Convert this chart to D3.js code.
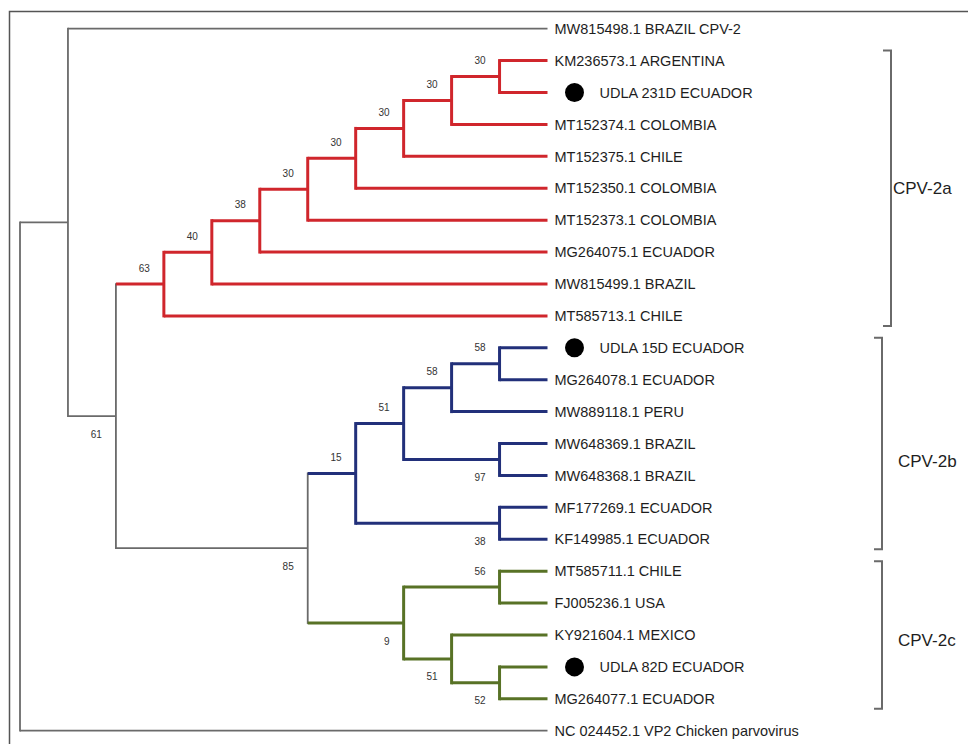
<!DOCTYPE html>
<html>
<script src='https://d3js.org/d3.v7.min.js'></script>
<style>
 body {margin:0; background:#fff;}
 text {font-family: 'Liberation Sans', Arial, sans-serif;}
</style>
<body onload='init()'>
<svg width=968 height=744>
</svg>
<script>

// tree as id / parent / bootstrap lists (children listed top to bottom)
var ids = ['root','n1','MW815498.1 BRAZIL CPV-2','n2','a0','a1','a2','a3','a4','a5','a6','a7',
 'KM236573.1 ARGENTINA','UDLA 231D ECUADOR','MT152374.1 COLOMBIA','MT152375.1 CHILE',
 'MT152350.1 COLOMBIA','MT152373.1 COLOMBIA','MG264075.1 ECUADOR','MW815499.1 BRAZIL','MT585713.1 CHILE',
 'c','b0','b1','b2','b3','UDLA 15D ECUADOR','MG264078.1 ECUADOR','MW889118.1 PERU',
 'b4','MW648369.1 BRAZIL','MW648368.1 BRAZIL','b5','MF177269.1 ECUADOR','KF149985.1 ECUADOR',
 'g0','g1','MT585711.1 CHILE','FJ005236.1 USA','g2','KY921604.1 MEXICO','g3',
 'UDLA 82D ECUADOR','MG264077.1 ECUADOR','NC 024452.1 VP2 Chicken parvovirus'];

var parents = ['','root','n1','n1','n2','a0','a1','a2','a3','a4','a5','a6',
 'a7','a7','a6','a5',
 'a4','a3','a2','a1','a0',
 'n2','c','b0','b1','b2','b3','b3','b2',
 'b1','b4','b4','b0','b5','b5',
 'c','g0','g1','g1','g0','g2','g2',
 'g3','g3','root'];

var support = [null,null,null,61,63,40,38,30,30,30,30,30,
 null,null,null,null,
 null,null,null,null,null,
 85,15,51,58,58,null,null,null,
 97,null,null,38,null,null,
 9,56,null,null,51,null,52,
 null,null,null];

// clade of each subtree root
var cladeRoots = ['a0','b0','g0'];
var cladeNames = ['CPV-2a','CPV-2b','CPV-2c'];
var cladeColors = ['#d0262c','#22307a','#587226'];

// isolates sequenced in the study (black dot)
var studyIsolates = ['UDLA 231D ECUADOR','UDLA 15D ECUADOR','UDLA 82D ECUADOR'];

function init() {

 var svg = d3.select('svg');
 var grey = '#6a6a6a';

 // frame
 svg.append('path')
  .attr('d','M9.5,744 V11.5 H968')
  .attr('fill','none').attr('stroke','#555').attr('stroke-width',1.5);

 var table = ids.map(function(d,i){ return {id:d, parent:parents[i], support:support[i]}; });
 var root = d3.stratify().id(function(d){return d.id;}).parentId(function(d){return d.parent || null;})(table);

 d3.cluster().size([1,1]).separation(function(){return 1;})(root);

 var leaves = root.leaves();
 var y = d3.scaleLinear().domain(d3.extent(leaves, function(n){return n.x;})).range([28.7,730.7]);
 var x = d3.scaleLinear().domain([0,1]).range([20,547.5]);

 // clade colour per node
 root.each(function(n){
  var k = cladeRoots.indexOf(n.id);
  if (k >= 0) n.color = cladeColors[k];
  else n.color = n.parent ? n.parent.color : null;
 });
 function col(n){ return n.color || grey; }
 function wid(n){ return n.color ? 3 : 1.8; }

 var g = svg.append('g');

 // vertical bars at internal nodes
 g.selectAll('line.v')
  .data(root.descendants().filter(function(n){return n.children;}))
  .enter().append('line')
   .attr('class','v')
   .attr('x1', function(n){return x(n.y);})
   .attr('x2', function(n){return x(n.y);})
   .attr('y1', function(n){return y(n.children[0].x) - wid(n)/2;})
   .attr('y2', function(n){return y(n.children[n.children.length-1].x) + wid(n)/2;})
   .attr('stroke', col).attr('stroke-width', wid);

 // horizontal branches
 g.selectAll('line.h')
  .data(root.descendants().filter(function(n){return n.parent;}))
  .enter().append('line')
   .attr('class','h')
   .attr('x1', function(n){return x(n.parent.y);})
   .attr('x2', function(n){return x(n.y);})
   .attr('y1', function(n){return y(n.x);})
   .attr('y2', function(n){return y(n.x);})
   .attr('stroke', col).attr('stroke-width', wid);

 // bootstrap values
 g.selectAll('text.bs')
  .data(root.descendants().filter(function(n){return n.data.support != null;}))
  .enter().append('text')
   .attr('class','bs')
   .attr('x', function(n){return x(n.y) - 14;})
   .attr('y', function(n){
     var below = n.parent && n.x > n.parent.x;
     return y(n.x) + (below ? 21.5 : -12.5);
   })
   .attr('text-anchor','end')
   .attr('font-size',10)
   .attr('fill','#333')
   .text(function(n){return n.data.support;});

 // leaf labels
 g.selectAll('circle.iso')
  .data(leaves.filter(function(n){return studyIsolates.indexOf(n.id) >= 0;}))
  .enter().append('circle')
   .attr('class','iso')
   .attr('cx', x(1) + 27)
   .attr('cy', function(n){return y(n.x);})
   .attr('r', 9.5)
   .attr('fill','#000');

 g.selectAll('text.leaf')
  .data(leaves)
  .enter().append('text')
   .attr('class','leaf')
   .attr('x', function(n){ return x(n.y) + (studyIsolates.indexOf(n.id) >= 0 ? 52 : 7); })
   .attr('y', function(n){return y(n.x);})
   .attr('dy','0.36em')
   .attr('font-size',14.5)
   .attr('fill','#1e1e1e')
   .text(function(n){return n.id;});

 // clade brackets
 var bx = [891, 882, 882];
 var lx = [893, 898, 898];
 var ly = [0, 17, 5];
 cladeRoots.forEach(function(id,k){
  var node = root.find(function(n){return n.id == id;});
  var lv = node.leaves();
  var top = y(lv[0].x) - 10, bot = y(lv[lv.length-1].x) + 10;
  svg.append('path')
   .attr('d','M'+(bx[k]-8)+','+top+' H'+bx[k]+' V'+bot+' H'+(bx[k]-8))
   .attr('fill','none').attr('stroke','#6a6a6a').attr('stroke-width',2);
  svg.append('text')
   .attr('x', lx[k])
   .attr('y', (top+bot)/2 + ly[k])
   .attr('dy','0.36em')
   .attr('font-size',17)
   .attr('fill','#1e1e1e')
   .text(cladeNames[k]);
 });
}

</script>
</body>
</html>
